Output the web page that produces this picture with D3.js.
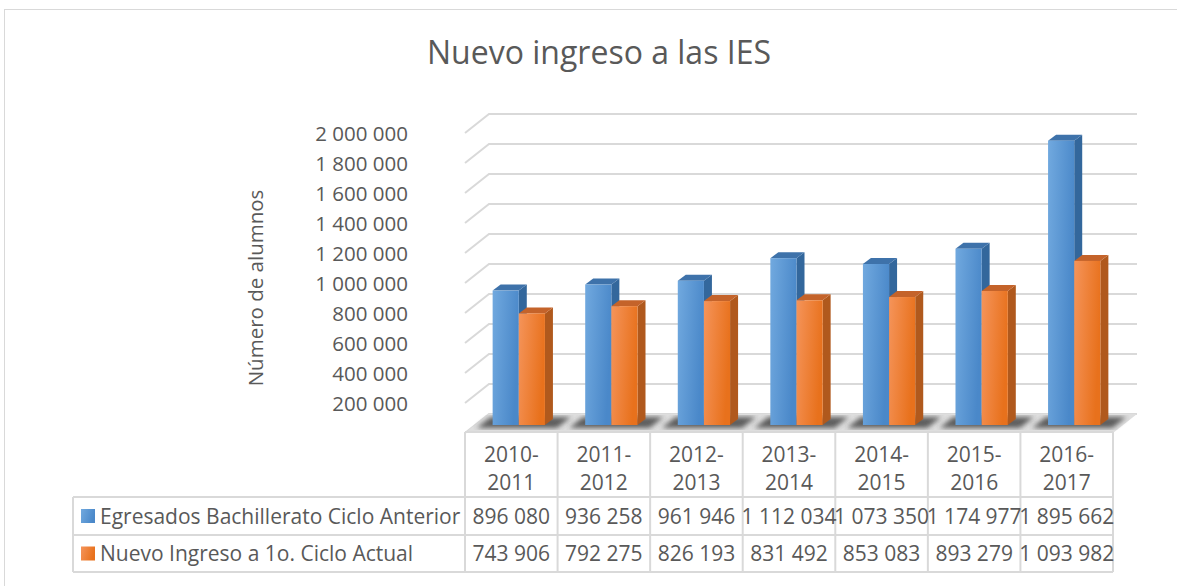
<!DOCTYPE html>
<html>
<head>
<meta charset="utf-8">
<script src="https://cdnjs.cloudflare.com/ajax/libs/d3/7.8.5/d3.min.js"></script>
<style>
body { margin:0; background:white; }
svg text { font-family:"Open Sans", sans-serif; fill:#595959; }
</style>
</head>
<body>
<svg id="chart"></svg>
<script>
var categories = ["2010-2011", "2011-2012", "2012-2013", "2013-2014", "2014-2015", "2015-2016", "2016-2017"];
var seriesNames = ["Egresados Bachillerato Ciclo Anterior", "Nuevo Ingreso a 1o. Ciclo Actual"];
var egresados = [896080, 936258, 961946, 1112034, 1073350, 1174977, 1895662];
var nuevoIngreso = [743906, 792275, 826193, 831492, 853083, 893279, 1093982];
var yTicks = [0, 200000, 400000, 600000, 800000, 1000000, 1200000, 1400000, 1600000, 1800000, 2000000];

var screen = {width:1177, height:586};
var plot = {left:465, right:1113, top:133, bottom:433};
var wall = {dx:24, dy:-19};        // offset of the back wall
var barPlane = {dx:7.5, dy:-8};    // where the bars stand
var side = {dx:8, dy:-6};          // depth of a single bar
var table = {left:73, top:432, header:497, row1:535, bottom:572};

var fmt = d3.formatLocale({decimal:",", thousands:" ", grouping:[3], currency:["",""]}).format(",d");

var svg = d3.select("#chart")
    .attr("width", screen.width)
    .attr("height", screen.height);

var defs = svg.append("defs");
var addGradient = function(id, c1, c2) {
    var g = defs.append("linearGradient").attr("id", id)
        .attr("x1", 0).attr("y1", 0).attr("x2", 1).attr("y2", 0.3);
    g.append("stop").attr("offset", "0%").attr("stop-color", c1);
    g.append("stop").attr("offset", "100%").attr("stop-color", c2);
}
addGradient("blueFront", "#71a9df", "#4a88c9");
addGradient("orangeFront", "#f5945a", "#e8711c");
defs.append("filter").attr("id", "blur")
    .append("feGaussianBlur").attr("stdDeviation", 2.5);

var colors = [
    {front:"url(#blueFront)", side:"#33679c", top:"#3e72aa"},
    {front:"url(#orangeFront)", side:"#b0591d", top:"#c4632a"}
];

// outer frame
svg.append("rect")
    .attr("x", 4.5).attr("y", 9.5)
    .attr("width", 1200).attr("height", 600)
    .attr("fill", "none")
    .attr("stroke", "#d9d9d9");

var xScale = d3.scaleBand()
    .domain(categories)
    .range([plot.left, plot.right]);

var yScale = d3.scaleLinear()
    .domain([0, 2000000])
    .range([plot.bottom, plot.top]);

// title
svg.append("text")
    .text("Nuevo ingreso a las IES")
    .attr("text-anchor", "middle")
    .attr("x", 599)
    .attr("y", 64)
    .style("font-size", "32px");

svg.append("g")
    .attr("transform", "translate(263,288)")
    .append("text")
    .text("Número de alumnos")
    .attr("text-anchor", "middle")
    .attr("transform", "rotate(-90)")
    .style("font-size", "20.5px");

// gridlines, side wall + back wall
svg.append("g")
    .selectAll("path")
    .data(yTicks)
    .enter()
    .append("path")
    .attr("d", function(v) {
        var y = yScale(v);
        return "M" + plot.left + "," + y +
               "L" + (plot.left + wall.dx) + "," + (y + wall.dy) +
               "L" + (plot.right + wall.dx) + "," + (y + wall.dy);
    })
    .attr("fill", "none")
    .attr("stroke", "#d9d9d9")
    .attr("stroke-width", 2);

// y axis labels
var yAxis = d3.axisLeft(yScale)
    .tickValues(yTicks.slice(1))
    .tickFormat(fmt)
    .tickSize(0)
    .tickPadding(0);

var axisG = svg.append("g")
    .attr("transform", "translate(408,0)")
    .call(yAxis);
axisG.select(".domain").remove();
axisG.selectAll("text")
    .style("font-size", "20.5px")
    .attr("dy", "0.36em");

// floor
var y0 = yScale(0);
svg.append("polygon")
    .attr("points", [
        [plot.left, y0], [plot.right, y0],
        [plot.right + wall.dx, y0 + wall.dy], [plot.left + wall.dx, y0 + wall.dy]
    ].join(" "))
    .attr("fill", "#dedede");

var groupWidth = xScale.bandwidth() * 0.565;
var barWidth = groupWidth / 2;

var groups = svg.append("g")
    .selectAll("g")
    .data(categories)
    .enter()
    .append("g");

// shadows on the floor
groups.append("polygon")
    .attr("points", function(c) {
        var x0 = xScale(c) + xScale.bandwidth() / 2 + barPlane.dx - groupWidth / 2;
        var x1 = x0 + groupWidth + side.dx;
        var b = y0 + barPlane.dy;
        return [[x0 - 16, b + 3], [x1 + 4, b + 3], [x1 + 18, b - 8], [x0 - 2, b - 8]].join(" ");
    })
    .attr("fill", "#3c3c3c")
    .attr("opacity", 0.8)
    .attr("filter", "url(#blur)");

var drawBar = function(sel, values, s) {
    sel.each(function(c, i) {
        var g = d3.select(this);
        var x = xScale(c) + xScale.bandwidth() / 2 + barPlane.dx - groupWidth / 2 + s * barWidth;
        var top = yScale(values[i]) + barPlane.dy;
        var b = y0 + barPlane.dy;
        g.append("polygon")
            .attr("points", [[x + barWidth, top], [x + barWidth + side.dx, top + side.dy],
                             [x + barWidth + side.dx, b + side.dy], [x + barWidth, b]].join(" "))
            .attr("fill", colors[s].side);
        g.append("polygon")
            .attr("points", [[x, top], [x + side.dx, top + side.dy],
                             [x + barWidth + side.dx, top + side.dy], [x + barWidth, top]].join(" "))
            .attr("fill", colors[s].top);
        g.append("rect")
            .attr("x", x)
            .attr("y", top)
            .attr("width", barWidth)
            .attr("height", b - top)
            .attr("fill", colors[s].front);
    });
}
drawBar(groups, egresados, 0);
drawBar(groups, nuevoIngreso, 1);

// data table
var grid = svg.append("g")
    .attr("stroke", "#d9d9d9")
    .attr("stroke-width", 2);

grid.append("line")
    .attr("x1", plot.left).attr("x2", plot.right)
    .attr("y1", table.top).attr("y2", table.top);
[table.header, table.row1, table.bottom].forEach(function(y) {
    grid.append("line")
        .attr("x1", table.left).attr("x2", plot.right)
        .attr("y1", y).attr("y2", y);
});
grid.append("line")
    .attr("x1", table.left).attr("x2", table.left)
    .attr("y1", table.header).attr("y2", table.bottom);
grid.selectAll(".col")
    .data(categories.concat([null]))
    .enter()
    .append("line")
    .attr("x1", function(c) { return c ? xScale(c) : plot.right; })
    .attr("x2", function(c) { return c ? xScale(c) : plot.right; })
    .attr("y1", table.top)
    .attr("y2", table.bottom);

var catLabels = svg.append("g")
    .selectAll("text")
    .data(categories)
    .enter()
    .append("text")
    .attr("text-anchor", "middle")
    .style("font-size", "21px");
catLabels.append("tspan")
    .attr("x", function(c) { return xScale(c) + xScale.bandwidth() / 2; })
    .attr("y", 462)
    .text(function(c) { return c.split("-")[0] + "-"; });
catLabels.append("tspan")
    .attr("x", function(c) { return xScale(c) + xScale.bandwidth() / 2; })
    .attr("y", 490)
    .text(function(c) { return c.split("-")[1]; });

var rows = [
    {name:seriesNames[0], values:egresados, y:(table.header + table.row1) / 2},
    {name:seriesNames[1], values:nuevoIngreso, y:(table.row1 + table.bottom) / 2}
];

rows.forEach(function(row, s) {
    svg.append("rect")
        .attr("x", 81)
        .attr("y", row.y - 7)
        .attr("width", 14)
        .attr("height", 14)
        .attr("fill", colors[s].front);
    svg.append("text")
        .text(row.name)
        .attr("x", 100)
        .attr("y", row.y + 7.5)
        .style("font-size", "21px");
    svg.append("g")
        .selectAll("text")
        .data(row.values)
        .enter()
        .append("text")
        .attr("text-anchor", "middle")
        .attr("x", function(v, i) { return xScale(categories[i]) + xScale.bandwidth() / 2; })
        .attr("y", row.y + 7.5)
        .style("font-size", "21px")
        .text(fmt);
});
</script>
</body>
</html>
